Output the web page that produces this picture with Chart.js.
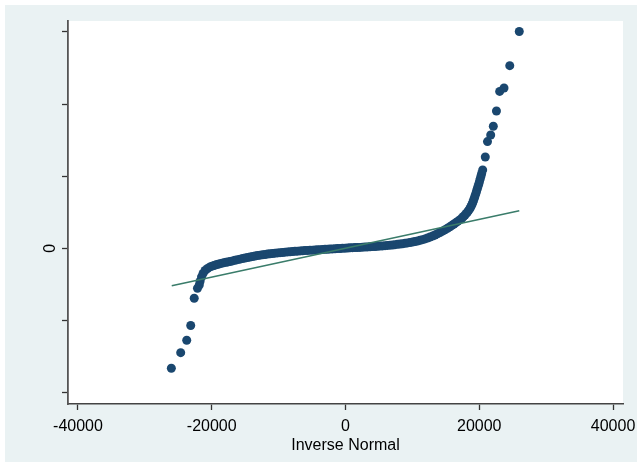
<!DOCTYPE html>
<html>
<head>
<meta charset="utf-8">
<script src="https://cdn.jsdelivr.net/npm/chart.js@4"></script>
<style>
html, body { margin: 0; padding: 0; background: #eaf2f3; overflow: hidden; }
#topEdge { position: absolute; left: 0; top: 0; width: 100%; height: 5px; background: #fff; }
#leftEdge { position: absolute; left: 0; top: 0; width: 5px; height: 100%; background: #fff; }
#wrap { position: absolute; left: 5px; top: 5px; width: 632px; height: 457px; background: #eaf2f3; }
canvas { display: block; }
</style>
</head>
<body>
<div id="topEdge"></div><div id="leftEdge"></div>
<div id="wrap"><canvas id="qnorm" width="632" height="457"></canvas></div>
<script>
// qnorm: sorted values (y) against inverse normal quantiles (x)
const invNormal = [
  -26040, -24640, -23740, -23140, -22620, -22130, -21860,
  -21750, -21530, -21300, -21000, -20630, -20260, -19960, -19660, -19360, -19060,
  -18760, -18460, -18160, -17870, -17570, -17270, -16890, -16520, -16150, -15770,
  -15400, -15020, -14650, -14280, -13900, -13530, -13160, -12780, -12410, -12030,
  -11660, -11290, -10910, -10540, -10170, -9790, -9420, -9040, -8670, -8300,
  -7920, -7550, -7180, -6800, -6430, -6050, -5680, -5310, -4930, -4560,
  -4190, -3810, -3440, -3060, -2690, -2320, -1940, -1570, -1200, -820,
  -450, -70, 300, 670, 1050, 1420, 1790, 2170, 2540, 2920,
  3290, 3660, 4040, 4410, 4780, 5160, 5530, 5910, 6280, 6650,
  7030, 7400, 7770, 8150, 8520, 8900, 9270, 9640, 10020, 10390,
  10760, 11140, 11510, 11890, 12260, 12630, 13010, 13380, 13750, 14130,
  14500, 14880, 15250, 15620, 15920, 16220, 16520, 16820, 17120, 17420,
  17640, 17870, 18060, 18240, 18430, 18610, 18760, 18910, 19030, 19140,
  19260, 19360, 19480, 19580, 19700, 19810, 19930, 20030, 20150, 20260, 20360,
  20510, 20900, 21230, 21710, 22100, 22570, 23050, 23700, 24560, 25980
];
const quantiles = [
  -1.664, -1.448, -1.276, -1.071, -0.693, -0.555, -0.509,
  -0.460, -0.398, -0.350, -0.308, -0.280, -0.259, -0.248, -0.239, -0.230, -0.222,
  -0.214, -0.207, -0.200, -0.194, -0.189, -0.183, -0.175, -0.166, -0.158, -0.151,
  -0.143, -0.135, -0.128, -0.121, -0.114, -0.107, -0.101, -0.096, -0.091, -0.086,
  -0.081, -0.076, -0.072, -0.068, -0.064, -0.061, -0.058, -0.054, -0.051, -0.049,
  -0.046, -0.043, -0.040, -0.037, -0.035, -0.032, -0.030, -0.028, -0.026, -0.024,
  -0.021, -0.019, -0.017, -0.015, -0.013, -0.011, -0.009, -0.007, -0.005, -0.003,
  -0.001, 0.001, 0.003, 0.006, 0.008, 0.010, 0.011, 0.012, 0.015, 0.017,
  0.019, 0.021, 0.023, 0.025, 0.028, 0.031, 0.033, 0.036, 0.040, 0.043,
  0.046, 0.050, 0.054, 0.058, 0.063, 0.068, 0.074, 0.079, 0.086, 0.093,
  0.101, 0.110, 0.119, 0.130, 0.143, 0.155, 0.169, 0.184, 0.201, 0.219,
  0.237, 0.257, 0.277, 0.298, 0.318, 0.337, 0.356, 0.376, 0.397, 0.420,
  0.441, 0.462, 0.483, 0.503, 0.527, 0.552, 0.580, 0.607, 0.635, 0.663,
  0.695, 0.725, 0.757, 0.788, 0.822, 0.857, 0.892, 0.926, 0.964, 1.003, 1.037,
  1.086, 1.266, 1.479, 1.571, 1.693, 1.904, 2.175, 2.223, 2.533, 3.007
];
// reference line end points
const refX = [-25980, 25980];
const refY = [-0.519, 0.521];

const xTicks = [-40000, -20000, 0, 20000, 40000];
const yTicks = [-2, -1, 0, 1, 2, 3];
const yLabels = ['', '', '0', '', '', ''];

const pts = invNormal.map((x, i) => ({ x: x, y: quantiles[i] }));
const line = refX.map((x, i) => ({ x: x, y: refY[i] }));

const plotBg = {
  id: 'plotBg',
  beforeDraw(chart) {
    const a = chart.chartArea;
    const ctx = chart.ctx;
    ctx.save();
    ctx.fillStyle = '#ffffff';
    ctx.fillRect(a.left, a.top, a.right - a.left, a.bottom - a.top);
    ctx.restore();
  }
};

const font = { family: '"Liberation Sans", Arial, sans-serif', size: 16 };

new Chart(document.getElementById('qnorm'), {
  type: 'scatter',
  data: {
    datasets: [
      {
        type: 'line',
        data: line,
        borderColor: '#3a7c6a',
        borderWidth: 1.6,
        pointRadius: 0,
        order: 0
      },
      {
        data: pts,
        pointRadius: 4.5,
        pointBackgroundColor: '#1a476f',
        pointBorderWidth: 0,
        order: 1
      }
    ]
  },
  options: {
    responsive: false,
    animation: false,
    devicePixelRatio: 1,
    layout: { padding: { top: 16, right: 14, left: 0, bottom: 0 } },
    plugins: { legend: { display: false }, tooltip: { enabled: false } },
    scales: {
      x: {
        type: 'linear',
        min: -41490,
        max: 41490,
        afterFit: s => { s.height = 58; s.paddingLeft = 0; s.paddingRight = 0; },
        afterBuildTicks: s => { s.ticks = xTicks.map(v => ({ value: v })); },
        ticks: { color: '#000', font: font, padding: 7, maxRotation: 0, autoSkip: false,
          callback: v => String(v) },
        grid: { drawOnChartArea: false, drawTicks: true, tickLength: 6, tickColor: '#333', tickWidth: 1.3 },
        border: { display: true, color: '#444', width: 1.6 },
        title: { display: true, text: 'Inverse Normal', color: '#000', font: font, padding: { top: 0, bottom: 7 } }
      },
      y: {
        type: 'linear',
        min: -2.16,
        max: 3.152,
        afterFit: s => { s.width = 63; s.paddingTop = 0; s.paddingBottom = 0; },
        afterBuildTicks: s => { s.ticks = yTicks.map(v => ({ value: v })); },
        ticks: {
          color: '#000', font: font, padding: 6.5, autoSkip: false,
          minRotation: 90, maxRotation: 90, crossAlign: 'center',
          callback: (v, i) => yLabels[i]
        },
        grid: { drawOnChartArea: false, drawTicks: true, tickLength: 6, tickColor: '#333', tickWidth: 1.3 },
        border: { display: true, color: '#555', width: 1.8 }
      }
    }
  },
  plugins: [plotBg]
});
</script>
</body>
</html>
